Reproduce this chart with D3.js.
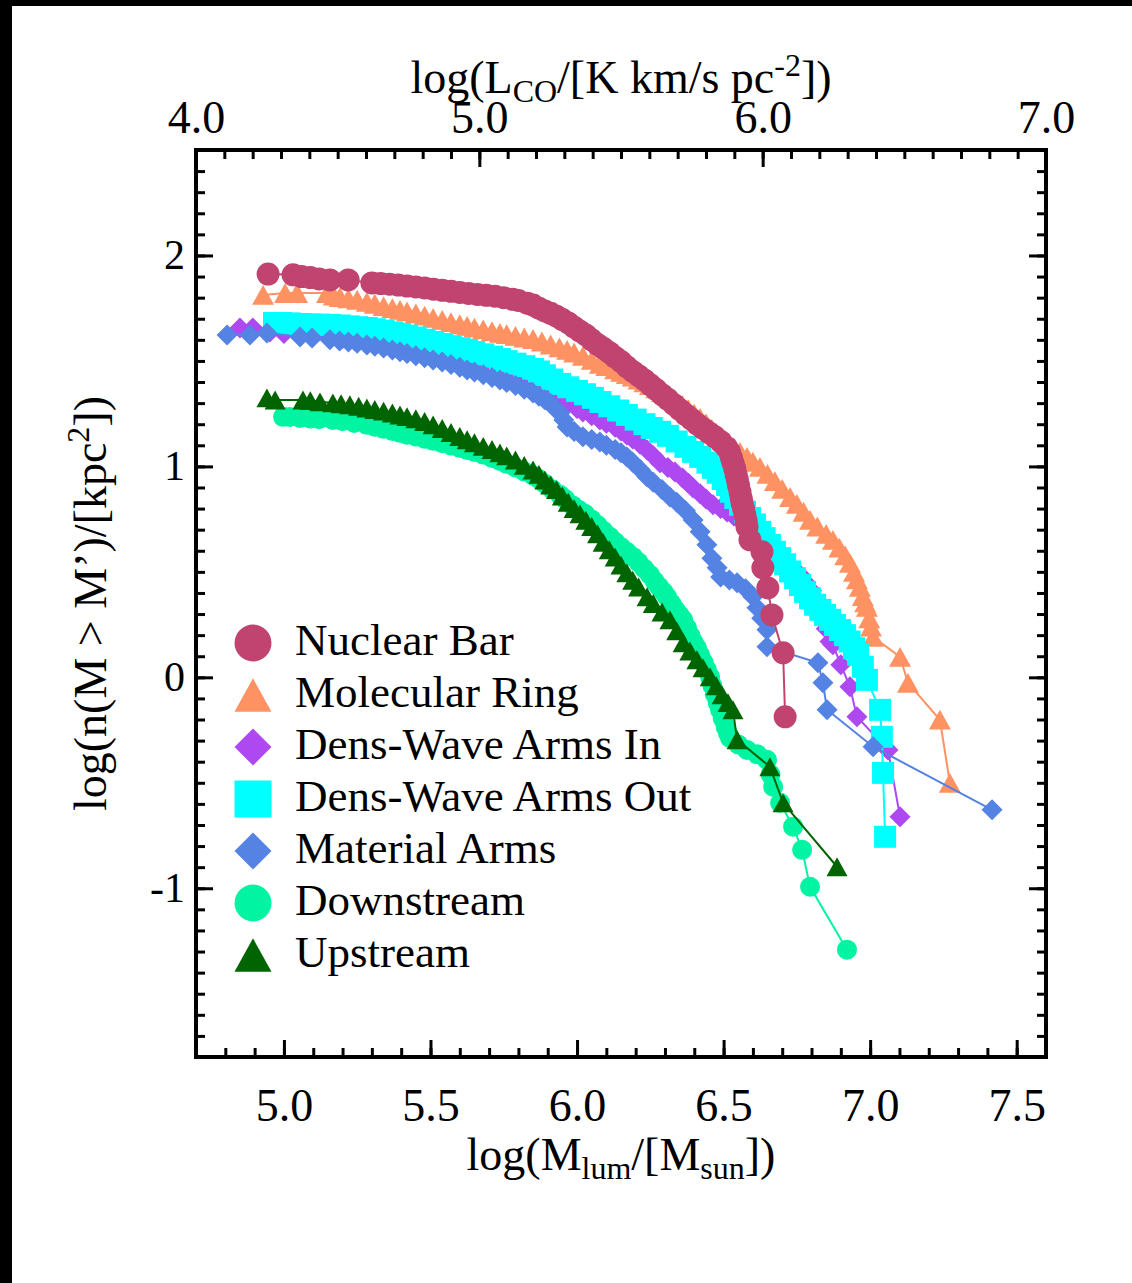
<!DOCTYPE html>
<html>
<head>
<meta charset="utf-8">
<script src="https://cdn.jsdelivr.net/npm/d3@7"></script>
<style>
  body { margin: 0; background: #fff; }
  svg { display: block; }
  text { font-family: "Liberation Serif", "Times New Roman", serif; fill: #000; }
</style>
</head>
<body>
<svg id="chart"></svg>
<script>
// cumulative mass functions, log(M_lum) vs log(n(>M))

var nuclearBar = [[4.946,1.912],[5.031,1.908],[5.06,1.90],[5.09,1.895],[5.12,1.889],[5.157,1.884],[5.219,1.884],
  [5.30,1.870],[5.33,1.867],[5.36,1.864],[5.39,1.860],[5.42,1.855],[5.45,1.851],[5.48,1.846],[5.51,1.840],[5.54,1.835],
  [5.57,1.830],[5.60,1.825],[5.63,1.820],[5.66,1.815],[5.69,1.811],[5.72,1.807],[5.75,1.800],[5.78,1.792],[5.80,1.787],
  [5.83,1.774],[5.85,1.765],[5.87,1.750],[5.89,1.737],[5.91,1.726],[5.93,1.712],[5.95,1.696],[5.97,1.680],[5.99,1.660],
  [6.01,1.641],[6.03,1.623],[6.05,1.600],[6.07,1.578],[6.09,1.560],[6.11,1.540],[6.13,1.518],[6.15,1.497],[6.17,1.472],
  [6.19,1.450],[6.21,1.430],[6.23,1.410],[6.25,1.387],[6.27,1.364],[6.29,1.340],[6.31,1.318],[6.33,1.294],[6.35,1.270],
  [6.37,1.246],[6.39,1.224],[6.41,1.200],[6.43,1.180],[6.45,1.160],[6.47,1.140],[6.49,1.118],[6.51,1.090],[6.52,1.069],
  [6.527,1.04],[6.532,1.017],[6.538,0.99],[6.543,0.96],[6.547,0.936],[6.551,0.91],[6.556,0.879],[6.56,0.85],[6.563,0.827],
  [6.568,0.80],[6.573,0.77],[6.577,0.74],[6.580,0.713],[6.590,0.652],[6.631,0.595],[6.634,0.519],[6.651,0.424],
  [6.665,0.296],[6.703,0.116],[6.710,-0.187]];

var molecularRing = [[4.929,1.813],[5.004,1.822],[5.045,1.822],[5.147,1.822],[5.17,1.81],[5.191,1.803],[5.22,1.797],
  [5.25,1.790],[5.283,1.780],[5.31,1.771],[5.34,1.760],[5.37,1.750],[5.396,1.742],[5.42,1.735],[5.45,1.725],[5.48,1.715],
  [5.509,1.704],[5.54,1.695],[5.57,1.684],[5.60,1.674],[5.625,1.666],[5.65,1.658],[5.68,1.650],[5.71,1.641],[5.737,1.633],
  [5.76,1.627],[5.79,1.619],[5.82,1.611],[5.850,1.604],[5.88,1.592],[5.91,1.578],[5.94,1.564],[5.966,1.552],[5.99,1.540],
  [6.02,1.524],[6.05,1.505],[6.078,1.486],[6.10,1.475],[6.13,1.460],[6.15,1.448],[6.170,1.438],[6.19,1.426],[6.21,1.412],
  [6.23,1.398],[6.249,1.386],[6.27,1.370],[6.29,1.352],[6.31,1.334],[6.334,1.315],[6.36,1.290],[6.38,1.270],[6.40,1.250],
  [6.420,1.230],[6.44,1.205],[6.46,1.178],[6.475,1.158],[6.488,1.140],[6.51,1.115],[6.535,1.090],[6.556,1.069],[6.58,1.045],
  [6.60,1.022],[6.624,0.998],[6.65,0.965],[6.675,0.930],[6.70,0.893],[6.727,0.855],[6.75,0.822],[6.773,0.785],[6.795,0.746],
  [6.82,0.715],[6.85,0.680],[6.873,0.652],[6.895,0.615],[6.915,0.578],[6.931,0.543],[6.945,0.50],[6.955,0.465],[6.965,0.429],
  [6.975,0.385],[6.983,0.355],[6.989,0.334],[6.997,0.28],[7.003,0.24],[7.010,0.192],[7.102,0.097],[7.129,-0.026],
  [7.238,-0.201],[7.272,-0.500]];

var densWaveIn = [[4.850,1.656],[4.894,1.656],[4.952,1.637],[5.00,1.630],[5.055,1.623],[5.10,1.619],[5.157,1.614],
  [5.20,1.606],[5.24,1.598],[5.283,1.590],[5.33,1.578],[5.37,1.568],[5.396,1.562],[5.44,1.550],[5.48,1.538],[5.509,1.528],
  [5.55,1.515],[5.59,1.502],[5.625,1.491],[5.66,1.478],[5.70,1.463],[5.737,1.448],[5.77,1.434],[5.81,1.415],[5.850,1.396],
  [5.88,1.375],[5.91,1.350],[5.942,1.325],[5.97,1.300],[6.00,1.275],[6.020,1.258],[6.05,1.240],[6.078,1.220],[6.10,1.205],
  [6.13,1.185],[6.15,1.168],[6.170,1.149],[6.19,1.130],[6.215,1.105],[6.239,1.078],[6.26,1.050],[6.283,1.017],[6.31,0.995],
  [6.334,0.974],[6.36,0.945],[6.38,0.920],[6.396,0.898],[6.42,0.870],[6.44,0.845],[6.464,0.818],[6.49,0.800],[6.512,0.784],
  [6.535,0.765],[6.556,0.746],[6.58,0.715],[6.60,0.685],[6.624,0.652],[6.645,0.620],[6.67,0.588],[6.693,0.557],[6.715,0.530],
  [6.74,0.508],[6.761,0.486],[6.78,0.450],[6.80,0.410],[6.819,0.367],[6.835,0.30],[6.85,0.23],[6.863,0.17],[6.873,0.154],
  [6.90,0.06],[6.931,-0.045],[6.955,-0.187],[7.061,-0.344],[7.102,-0.661]];

var densWaveOut = [[4.966,1.680],[4.99,1.680],[5.02,1.678],[5.055,1.675],[5.09,1.673],[5.12,1.672],[5.157,1.671],
  [5.19,1.668],[5.22,1.664],[5.25,1.660],[5.283,1.656],[5.31,1.650],[5.34,1.643],[5.37,1.635],[5.396,1.628],[5.42,1.620],
  [5.45,1.611],[5.48,1.600],[5.509,1.590],[5.54,1.580],[5.57,1.570],[5.60,1.560],[5.625,1.552],[5.65,1.542],[5.68,1.531],
  [5.71,1.520],[5.737,1.509],[5.76,1.499],[5.79,1.487],[5.82,1.475],[5.850,1.462],[5.87,1.450],[5.89,1.432],[5.915,1.412],
  [5.942,1.391],[5.97,1.375],[6.00,1.358],[6.027,1.342],[6.054,1.325],[6.08,1.305],[6.11,1.285],[6.14,1.265],[6.170,1.244],
  [6.20,1.222],[6.23,1.200],[6.255,1.182],[6.283,1.164],[6.31,1.145],[6.34,1.118],[6.37,1.093],[6.396,1.069],[6.42,1.045],
  [6.445,1.018],[6.464,0.993],[6.48,0.970],[6.497,0.940],[6.512,0.912],[6.525,0.880],[6.540,0.850],[6.556,0.818],
  [6.573,0.785],[6.590,0.755],[6.607,0.725],[6.625,0.690],[6.64,0.660],[6.658,0.628],[6.675,0.595],[6.693,0.565],
  [6.710,0.536],[6.727,0.502],[6.744,0.470],[6.761,0.438],[6.778,0.405],[6.795,0.375],[6.812,0.344],[6.830,0.320],
  [6.846,0.296],[6.863,0.273],[6.880,0.248],[6.897,0.224],[6.914,0.200],[6.930,0.170],[6.945,0.138],[6.959,0.107],
  [6.975,0.05],[6.989,-0.012],[7.034,-0.154],[7.040,-0.282],[7.044,-0.453],[7.051,-0.756]];

var materialArms = [[4.806,1.623],[4.884,1.623],[4.942,1.633],[5.055,1.614],[5.096,1.609],[5.157,1.600],[5.19,1.595],
  [5.22,1.590],[5.25,1.584],[5.283,1.576],[5.31,1.570],[5.34,1.561],[5.37,1.552],[5.396,1.543],[5.42,1.535],[5.45,1.525],
  [5.48,1.515],[5.509,1.505],[5.54,1.495],[5.57,1.483],[5.60,1.470],[5.625,1.457],[5.65,1.447],[5.68,1.435],[5.71,1.422],
  [5.737,1.410],[5.76,1.398],[5.79,1.384],[5.82,1.366],[5.850,1.348],[5.87,1.333],[5.89,1.316],[5.908,1.301],[5.925,1.275],
  [5.942,1.254],[5.955,1.220],[5.966,1.187],[5.99,1.165],[6.020,1.140],[6.05,1.128],[6.078,1.116],[6.10,1.100],[6.13,1.080],
  [6.15,1.065],[6.170,1.045],[6.19,1.020],[6.215,0.985],[6.239,0.950],[6.26,0.925],[6.29,0.890],[6.317,0.855],[6.34,0.830],
  [6.37,0.790],[6.396,0.746],[6.42,0.690],[6.443,0.628],[6.46,0.565],[6.478,0.520],[6.49,0.476],[6.52,0.462],[6.546,0.448],
  [6.575,0.420],[6.600,0.382],[6.614,0.330],[6.630,0.280],[6.648,0.225],[6.648,0.145],[6.822,0.069],[6.839,-0.026],
  [6.853,-0.154],[7.010,-0.329],[7.416,-0.628]];

var downstream = [[4.997,1.235],[5.02,1.234],[5.055,1.230],[5.09,1.227],[5.12,1.224],[5.167,1.220],[5.20,1.214],
  [5.24,1.206],[5.283,1.197],[5.31,1.188],[5.34,1.178],[5.37,1.168],[5.396,1.159],[5.42,1.150],[5.45,1.142],[5.48,1.131],
  [5.509,1.121],[5.54,1.110],[5.57,1.099],[5.60,1.088],[5.625,1.078],[5.65,1.068],[5.68,1.056],[5.71,1.040],[5.737,1.026],
  [5.76,1.012],[5.79,0.995],[5.82,0.976],[5.850,0.957],[5.87,0.940],[5.89,0.918],[5.915,0.892],[5.942,0.865],[5.96,0.845],
  [5.985,0.815],[6.005,0.795],[6.027,0.775],[6.05,0.748],[6.07,0.722],[6.09,0.695],[6.112,0.666],[6.13,0.642],[6.15,0.618],
  [6.17,0.595],[6.191,0.571],[6.21,0.545],[6.23,0.515],[6.249,0.486],[6.265,0.455],[6.28,0.430],[6.295,0.405],[6.307,0.382],
  [6.322,0.350],[6.336,0.320],[6.350,0.295],[6.362,0.273],[6.375,0.235],[6.388,0.195],[6.398,0.165],[6.409,0.140],
  [6.42,0.105],[6.432,0.070],[6.443,0.035],[6.454,0.002],[6.462,-0.040],[6.470,-0.080],[6.48,-0.120],[6.488,-0.154],
  [6.497,-0.195],[6.507,-0.235],[6.515,-0.265],[6.522,-0.287],[6.550,-0.318],[6.580,-0.344],[6.615,-0.365],[6.648,-0.391],
  [6.660,-0.460],[6.669,-0.519],[6.693,-0.595],[6.737,-0.708],[6.768,-0.818],[6.795,-0.993],[6.921,-1.291]];

var upstream = [[4.942,1.325],[4.970,1.315],[5.065,1.315],[5.09,1.312],[5.123,1.306],[5.167,1.301],[5.195,1.297],
  [5.225,1.292],[5.255,1.285],[5.283,1.277],[5.31,1.270],[5.34,1.262],[5.37,1.253],[5.396,1.244],[5.42,1.236],[5.45,1.226],
  [5.48,1.213],[5.509,1.197],[5.54,1.180],[5.57,1.161],[5.60,1.142],[5.625,1.126],[5.65,1.112],[5.68,1.095],[5.71,1.080],
  [5.737,1.064],[5.76,1.050],[5.79,1.030],[5.82,1.005],[5.850,0.983],[5.87,0.962],[5.89,0.935],[5.91,0.912],[5.93,0.890],
  [5.95,0.860],[5.97,0.830],[5.99,0.800],[6.01,0.775],[6.03,0.745],[6.05,0.715],[6.07,0.680],[6.089,0.640],[6.11,0.605],
  [6.13,0.570],[6.15,0.532],[6.170,0.495],[6.19,0.460],[6.21,0.428],[6.239,0.382],[6.26,0.350],[6.29,0.310],[6.317,0.273],
  [6.34,0.220],[6.362,0.164],[6.385,0.125],[6.409,0.083],[6.43,0.045],[6.454,0.002],[6.475,-0.040],[6.495,-0.083],
  [6.515,-0.120],[6.532,-0.154],[6.546,-0.296],[6.658,-0.424],[6.703,-0.595],[6.887,-0.898]];

var seriesNames = ["Nuclear Bar", "Molecular Ring", "Dens-Wave Arms In", "Dens-Wave Arms Out",
                   "Material Arms", "Downstream", "Upstream"];
var seriesData = [nuclearBar, molecularRing, densWaveIn, densWaveOut, materialArms, downstream, upstream];

var xMajorTicks = [5.0, 5.5, 6.0, 6.5, 7.0, 7.5];
var xTopTicks = [4.0, 5.0, 6.0, 7.0];
var yMajorTicks = [-1, 0, 1, 2];

// styling
var seriesColors = ["#C0446F", "#FF9262", "#AE48F0", "#00FFFF", "#5483E4", "#00F4A2", "#006400"];
var seriesShapes = ["circle", "triangle", "diamond", "square", "diamond", "circle", "triangle"];
var markerWidth = [23, 22, 21, 22, 21, 20, 21];
var drawOrder = [1, 2, 3, 4, 0, 5, 6];

var width = 1132, height = 1283;
var margin = {top: 150, right: 86, bottom: 226, left: 196};
var plotW = width - margin.left - margin.right,
    plotH = height - margin.top - margin.bottom;

var svg = d3.select("#chart").attr("width", width).attr("height", height);

svg.append("rect").attr("width", width).attr("height", height).attr("fill", "#fff");
// black scan edges of the original page
svg.append("rect").attr("width", width).attr("height", 6).attr("fill", "#000");
svg.append("rect").attr("width", 12).attr("height", height).attr("fill", "#000");

var x = d3.scaleLinear().domain([4.7, 7.6]).range([0, plotW]);
var xTop = d3.scaleLinear().domain([4.0, 7.0]).range([0, plotW]);
var y = d3.scaleLinear().domain([-1.8, 2.5]).range([plotH, 0]);

var g = svg.append("g").attr("transform", "translate(" + margin.left + "," + margin.top + ")");

// marker shapes, size = width^2
var diamond = {draw: function(ctx, size) {
  var r = Math.sqrt(size) / 2;
  ctx.moveTo(0, -r); ctx.lineTo(r, 0); ctx.lineTo(0, r); ctx.lineTo(-r, 0); ctx.closePath();
}};
var triangle = {draw: function(ctx, size) {
  var w = Math.sqrt(size) / 2, h = w * 0.9;
  ctx.moveTo(0, -h); ctx.lineTo(w, h); ctx.lineTo(-w, h); ctx.closePath();
}};
var square = {draw: function(ctx, size) {
  var r = Math.sqrt(size) / 2;
  ctx.rect(-r, -r, 2 * r, 2 * r);
}};
var circle = {draw: function(ctx, size) {
  var r = Math.sqrt(size) / 2;
  ctx.moveTo(r, 0); ctx.arc(0, 0, r, 0, 2 * Math.PI);
}};
var shapeTypes = {circle: circle, triangle: triangle, diamond: diamond, square: square};

function marker(i, w) {
  return d3.symbol().type(shapeTypes[seriesShapes[i]]).size(w * w)();
}

// data
var line = d3.line().x(function(d) { return x(d[0]); }).y(function(d) { return y(d[1]); });

var plot = g.append("g").attr("class", "series");
drawOrder.forEach(function(i) {
  var s = plot.append("g");
  s.append("path")
    .datum(seriesData[i])
    .attr("d", line)
    .attr("fill", "none")
    .attr("stroke", seriesColors[i])
    .attr("stroke-width", 2);
  s.selectAll("path.pt")
    .data(seriesData[i])
    .enter().append("path")
      .attr("class", "pt")
      .attr("transform", function(d) { return "translate(" + x(d[0]) + "," + y(d[1]) + ")"; })
      .attr("d", marker(i, markerWidth[i]))
      .attr("fill", seriesColors[i]);
});

// axes, ticks pointing inward
function styleAxis(sel, fontSize) {
  sel.select(".domain").remove();
  sel.selectAll(".tick line").attr("stroke", "#000").attr("stroke-width", 3);
  sel.selectAll(".tick text")
    .attr("font-family", "'Liberation Serif', 'Times New Roman', serif")
    .attr("font-size", fontSize)
    .attr("fill", "#000");
}

var xMinor = d3.range(47, 77).map(function(v) { return v / 10; });
var xTopMinor = d3.range(40, 71).map(function(v) { return v / 10; });
var yMinor = d3.range(-18, 26).map(function(v) { return v / 10; });
var intFmt = function(d) { return String(d); };

g.append("g").attr("transform", "translate(0," + plotH + ")")
  .call(d3.axisBottom(x).tickValues(xMinor).tickSize(-9).tickFormat(""))
  .call(styleAxis, 46);
g.append("g").attr("transform", "translate(0," + plotH + ")")
  .call(d3.axisBottom(x).tickValues(xMajorTicks).tickSize(-17).tickPadding(31).tickFormat(d3.format(".1f")))
  .call(styleAxis, 46);

g.append("g")
  .call(d3.axisTop(xTop).tickValues(xTopMinor).tickSize(-9).tickFormat(""))
  .call(styleAxis, 46);
g.append("g")
  .call(d3.axisTop(xTop).tickValues(xTopTicks).tickSize(-17).tickPadding(17).tickFormat(d3.format(".1f")))
  .call(styleAxis, 46);

g.append("g")
  .call(d3.axisLeft(y).tickValues(yMinor).tickSize(-9).tickFormat(""))
  .call(styleAxis, 42);
g.append("g")
  .call(d3.axisLeft(y).tickValues(yMajorTicks).tickSize(-17).tickPadding(11).tickFormat(intFmt))
  .call(styleAxis, 42);

g.append("g").attr("transform", "translate(" + plotW + ",0)")
  .call(d3.axisRight(y).tickValues(yMinor).tickSize(-9).tickFormat(""))
  .call(styleAxis, 42);
g.append("g").attr("transform", "translate(" + plotW + ",0)")
  .call(d3.axisRight(y).tickValues(yMajorTicks).tickSize(-17).tickFormat(""))
  .call(styleAxis, 42);

g.append("rect")
  .attr("width", plotW).attr("height", plotH)
  .attr("fill", "none").attr("stroke", "#000").attr("stroke-width", 4);

// axis titles
var xt = g.append("text")
  .attr("x", plotW / 2).attr("y", plotH + 113)
  .attr("text-anchor", "middle").attr("font-size", 46);
xt.append("tspan").text("log(M");
xt.append("tspan").attr("font-size", 32).attr("dy", 9).text("lum");
xt.append("tspan").attr("dy", -9).text("/[M");
xt.append("tspan").attr("font-size", 32).attr("dy", 9).text("sun");
xt.append("tspan").attr("dy", -9).text("])");

var tt = g.append("text")
  .attr("x", plotW / 2).attr("y", -57)
  .attr("text-anchor", "middle").attr("font-size", 46);
tt.append("tspan").text("log(L");
tt.append("tspan").attr("font-size", 32).attr("dy", 9).text("CO");
tt.append("tspan").attr("dy", -9).text("/[K km/s pc");
tt.append("tspan").attr("font-size", 32).attr("dy", -17).text("-2");
tt.append("tspan").attr("dy", 17).text("])");

var yt = g.append("text")
  .attr("transform", "translate(-90," + (plotH / 2) + ") rotate(-90)")
  .attr("text-anchor", "middle").attr("font-size", 46);
yt.append("tspan").text("log(n(M > M\u2019)/[kpc");
yt.append("tspan").attr("font-size", 32).attr("dy", -17).text("2");
yt.append("tspan").attr("dy", 17).text("])");

// legend
var legend = g.append("g").attr("transform", "translate(" + (253 - margin.left) + "," + (643 - margin.top) + ")");
var rows = legend.selectAll("g").data(seriesNames).enter().append("g")
  .attr("transform", function(d, i) { return "translate(0," + (i * 52) + ")"; });
rows.append("path")
  .attr("d", function(d, i) { return marker(i, 37); })
  .attr("fill", function(d, i) { return seriesColors[i]; });
rows.append("text")
  .attr("x", 42).attr("y", 12)
  .attr("font-size", 45)
  .text(function(d) { return d; });
</script>
</body>
</html>
